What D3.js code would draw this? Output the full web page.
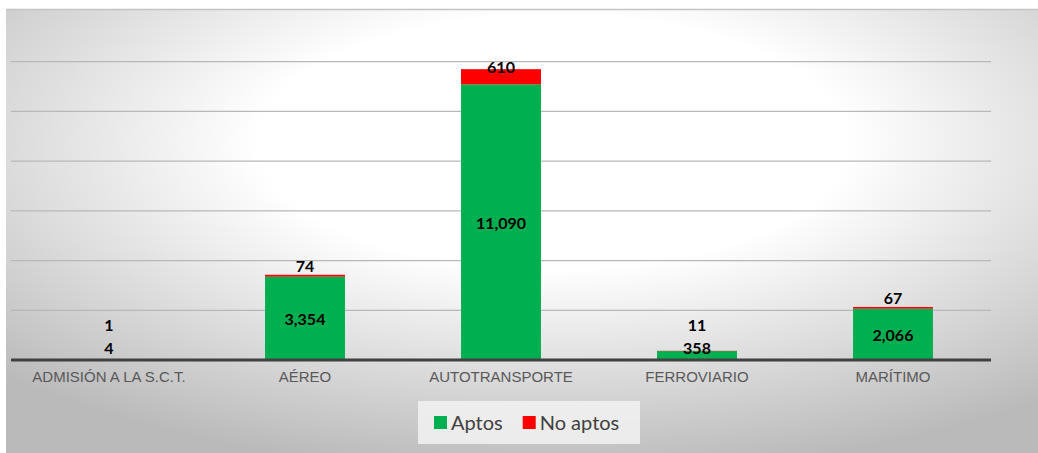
<!DOCTYPE html>
<html>
<head>
<meta charset="utf-8">
<script src="https://cdn.jsdelivr.net/npm/d3@7"></script>
<style>
  body { margin: 0; background: #fff; }
  svg { display: block; }
</style>
</head>
<body>
<div id="chart"></div>
<script>

var categories = ["ADMISIÓN A LA S.C.T.", "AÉREO", "AUTOTRANSPORTE", "FERROVIARIO", "MARÍTIMO"];
var aptos = [4, 3354, 11090, 358, 2066];
var noAptos = [1, 74, 610, 11, 67];
var seriesNames = ["Aptos", "No aptos"];
var seriesColors = ["#00b050", "#ff0000"];
var yTicks = [2000, 4000, 6000, 8000, 10000, 12000];

var svgWidth = 1038;
var svgHeight = 453;

var plot = { left: 11, right: 991, top: 12, bottom: 360 };

var svg = d3.select("#chart")
  .append("svg")
  .attr("width", svgWidth)
  .attr("height", svgHeight);

// background panel gradient
var defs = svg.append("defs");
var grad = defs.append("radialGradient")
  .attr("id", "bg")
  .attr("cx", 0.53)
  .attr("cy", 0.3)
  .attr("r", 0.75);
grad.append("stop").attr("offset", "0").attr("stop-color", "#ffffff");
grad.append("stop").attr("offset", "0.38").attr("stop-color", "#ffffff");
grad.append("stop").attr("offset", "1").attr("stop-color", "#bababa");

svg.append("rect")
  .attr("x", 6)
  .attr("y", 9)
  .attr("width", svgWidth - 6)
  .attr("height", svgHeight - 9)
  .attr("fill", "url(#bg)");

svg.append("line")
  .attr("x1", 6).attr("x2", svgWidth)
  .attr("y1", 9.5).attr("y2", 9.5)
  .attr("stroke", "#c4c4c4")
  .attr("stroke-width", 1.5);

var x = d3.scaleBand()
  .domain(categories)
  .range([plot.left, plot.right])
  .paddingInner(0.592)
  .paddingOuter(0.296);

var y = d3.scaleLinear()
  .domain([0, 14000])
  .range([plot.bottom, plot.top]);

// gridlines
svg.append("g")
  .selectAll("line")
  .data(yTicks)
  .enter()
  .append("line")
  .attr("x1", plot.left)
  .attr("x2", plot.right)
  .attr("y1", d => y(d))
  .attr("y2", d => y(d))
  .attr("stroke", "#b8b8b8")
  .attr("stroke-width", 1.3);

var rows = categories.map((c, i) => ({ cat: c, a: aptos[i], n: noAptos[i] }));

var stack = d3.stack().keys(["a", "n"])(rows);

var layers = svg.append("g")
  .selectAll("g")
  .data(stack)
  .enter()
  .append("g")
  .attr("fill", (d, i) => seriesColors[i]);

layers.selectAll("rect")
  .data(d => d)
  .enter()
  .append("rect")
  .attr("x", d => x(d.data.cat))
  .attr("width", x.bandwidth())
  .attr("y", d => y(d[1]))
  .attr("height", d => y(d[0]) - y(d[1]));

// baseline
svg.append("line")
  .attr("x1", plot.left)
  .attr("x2", plot.right)
  .attr("y1", y(0))
  .attr("y2", y(0))
  .attr("stroke", "#404040")
  .attr("stroke-width", 3);

// x axis labels
var xAxis = d3.axisBottom(x).tickSize(0).tickPadding(0);
var xg = svg.append("g")
  .attr("transform", `translate(0, ${y(0) + 17})`)
  .call(xAxis);
xg.select(".domain").remove();
xg.selectAll("text")
  .attr("dy", "0.35em")
  .attr("fill", "#595959")
  .style("font-family", "'Liberation Sans', Arial, sans-serif")
  .style("font-size", "15px");

// data labels
var fmt = d3.format(",");
var labelFont = "Lato, 'Noto Sans', sans-serif";

rows.forEach(function(r) {
  var cx = x(r.cat) + x.bandwidth() / 2;
  var aMid = (y(0) + y(r.a)) / 2;
  var aY = Math.min(aMid + 1, 348);
  var nMid = (y(r.a) + y(r.a + r.n)) / 2;
  var nY = Math.min(nMid - 9.5, aY - 22.5);

  svg.append("text")
    .attr("x", cx)
    .attr("y", aY)
    .attr("dy", "0.35em")
    .attr("text-anchor", "middle")
    .style("font-family", labelFont)
    .style("font-weight", "bold")
    .style("font-size", "16px")
    .attr("fill", "#000")
    .text(fmt(r.a));

  svg.append("text")
    .attr("x", cx)
    .attr("y", nY)
    .attr("dy", "0.35em")
    .attr("text-anchor", "middle")
    .style("font-family", labelFont)
    .style("font-weight", "bold")
    .style("font-size", "16px")
    .attr("fill", "#000")
    .text(fmt(r.n));
});

// legend
var legend = svg.append("g");
legend.append("rect")
  .attr("x", 418)
  .attr("y", 401)
  .attr("width", 222)
  .attr("height", 43)
  .attr("fill", "#f2f2f2")
  .attr("fill-opacity", 0.85);

var lx = 434;
seriesNames.forEach(function(name, i) {
  legend.append("rect")
    .attr("x", lx)
    .attr("y", 416)
    .attr("width", 13)
    .attr("height", 13)
    .attr("fill", seriesColors[i]);
  var t = legend.append("text")
    .attr("x", lx + 17)
    .attr("y", 423)
    .attr("dy", "0.35em")
    .attr("fill", "#404040")
    .style("font-family", labelFont)
    .style("font-size", "20px")
    .text(name);
  lx += 17 + t.node().getComputedTextLength() + 20;
});

</script>
</body>
</html>
